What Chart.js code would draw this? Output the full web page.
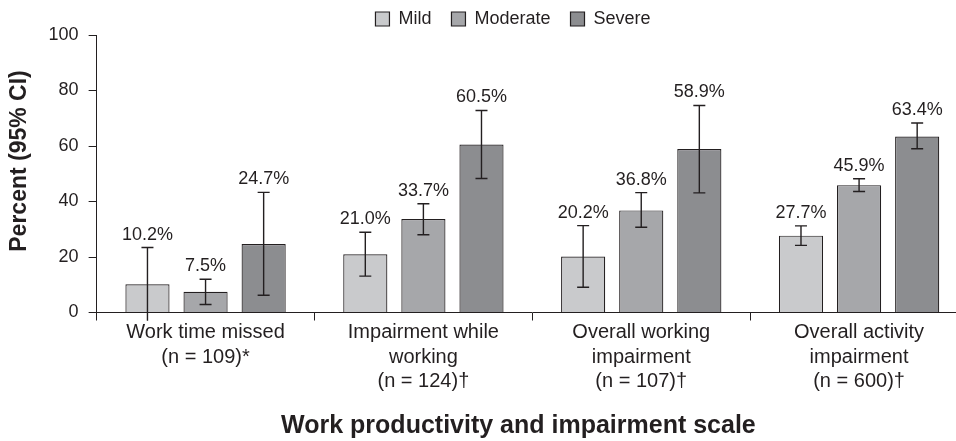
<!DOCTYPE html>
<html>
<head>
<meta charset="utf-8">
<script src="https://cdn.jsdelivr.net/npm/chart.js@4"></script>
<style>
    html, body { margin: 0; padding: 0; background: #fff; overflow: hidden; }
    #wrap { position: absolute; left: 0; top: 0; width: 970px; height: 441px; }
</style>
</head>
<body>
<div id="wrap"><canvas id="chart"></canvas></div>
<script>
/* ── Data ─────────────────────────────────────────────── */
const categories = [
    ['Work time missed', '(n = 109)*'],
    ['Impairment while', 'working', '(n = 124)\u2020'],
    ['Overall working', 'impairment', '(n = 107)\u2020'],
    ['Overall activity', 'impairment', '(n = 600)\u2020'],
];
const seriesNames = ['Mild', 'Moderate', 'Severe'];

const mild = [10.2, 21.0, 20.2, 27.7];
const moderate = [7.5, 33.7, 36.8, 45.9];
const severe = [24.7, 60.5, 58.9, 63.4];

// 95% CI bounds
const mildLow = [-3.0, 13.1, 9.1, 24.2];
const mildHigh = [23.4, 28.9, 31.3, 31.2];
const moderateLow = [2.9, 28.0, 30.7, 43.6];
const moderateHigh = [12.0, 39.2, 43.2, 48.2];
const severeLow = [6.2, 48.3, 43.1, 59.0];
const severeHigh = [43.3, 72.8, 74.6, 68.3];

const yTicks = [0, 20, 40, 60, 80, 100];

/* ── Styling ──────────────────────────────────────────── */
const INK = '#231f20';
const FONT = '"Liberation Sans", Arial, sans-serif';
const FILLS = ['#c9cacc', '#a6a7aa', '#8c8d90'];

Chart.defaults.font.family = FONT;
Chart.defaults.color = INK;

const values = [mild, moderate, severe];
const lows = [mildLow, moderateLow, severeLow];
const highs = [mildHigh, moderateHigh, severeHigh];

// error bars + value labels drawn on top of the bars
const errorBars = {
    id: 'errorBars',
    afterDatasetsDraw(chart) {
        const ctx = chart.ctx;
        const y = chart.scales.y;
        ctx.save();
        ctx.strokeStyle = INK;
        ctx.fillStyle = INK;
        ctx.lineWidth = 1.4;
        ctx.font = '18px ' + FONT;
        ctx.textAlign = 'center';
        ctx.textBaseline = 'alphabetic';
        chart.data.datasets.forEach((ds, i) => {
            chart.getDatasetMeta(i).data.forEach((bar, j) => {
                const x = bar.x;
                const yHi = y.getPixelForValue(highs[i][j]);
                const yLo = y.getPixelForValue(lows[i][j]);
                ctx.beginPath();
                ctx.moveTo(x, yHi);
                ctx.lineTo(x, yLo);
                ctx.moveTo(x - 6, yHi);
                ctx.lineTo(x + 6, yHi);
                if (lows[i][j] >= 0) {
                    ctx.moveTo(x - 6, yLo);
                    ctx.lineTo(x + 6, yLo);
                }
                ctx.stroke();
                ctx.fillText(ds.data[j].toFixed(1) + '%', x, yHi - 8);
            });
        });
        ctx.restore();
    },
};

// legend sits a little right of the canvas centre in the original
const legendShift = {
    id: 'legendShift',
    afterLayout(chart) {
        chart.legend.left += 29;
        chart.legend.right += 29;
    },
};

new Chart(document.getElementById('chart').getContext('2d'), {
    type: 'bar',
    data: {
        labels: categories,
        datasets: seriesNames.map((name, i) => ({
            label: name,
            data: values[i],
            backgroundColor: FILLS[i],
            borderColor: INK,
            borderWidth: 1.2,
            categoryPercentage: 0.8,
            barPercentage: 0.76,
        })),
    },
    options: {
        responsive: true,
        maintainAspectRatio: false,
        animation: false,
        layout: { padding: { top: -10, right: 2, bottom: 0, left: 0 } },
        plugins: {
            legend: {
                position: 'top',
                maxHeight: 45,
                labels: {
                    boxWidth: 14,
                    boxHeight: 14,
                    padding: 20,
                    color: INK,
                    font: { size: 18 },
                },
            },
            tooltip: { enabled: false },
        },
        scales: {
            x: {
                grid: { display: true, drawOnChartArea: false, tickLength: 8, color: INK, offset: true },
                border: { color: INK, width: 1 },
                ticks: { padding: 0, color: INK, font: { size: 20, lineHeight: 1.225 }, maxRotation: 0, autoSkip: false },
                title: {
                    display: true,
                    // trailing spaces nudge the centred title left, as in the original
                    text: 'Work productivity and impairment scale    ',
                    color: INK,
                    font: { size: 25, weight: 'bold' },
                    padding: { top: 17, bottom: 0 },
                },
            },
            y: {
                min: 0,
                max: 100,
                afterBuildTicks(scale) { scale.ticks = yTicks.map(v => ({ value: v })); },
                grid: { display: true, drawOnChartArea: false, tickLength: 8, color: INK },
                border: { color: INK, width: 1 },
                ticks: { padding: 10, color: INK, font: { size: 18 } },
                title: {
                    display: true,
                    text: '    Percent (95% CI)',
                    color: INK,
                    font: { size: 23, weight: 'bold' },
                    padding: { top: 6, bottom: 5 },
                },
            },
        },
    },
    plugins: [errorBars, legendShift],
});
</script>
</body>
</html>
